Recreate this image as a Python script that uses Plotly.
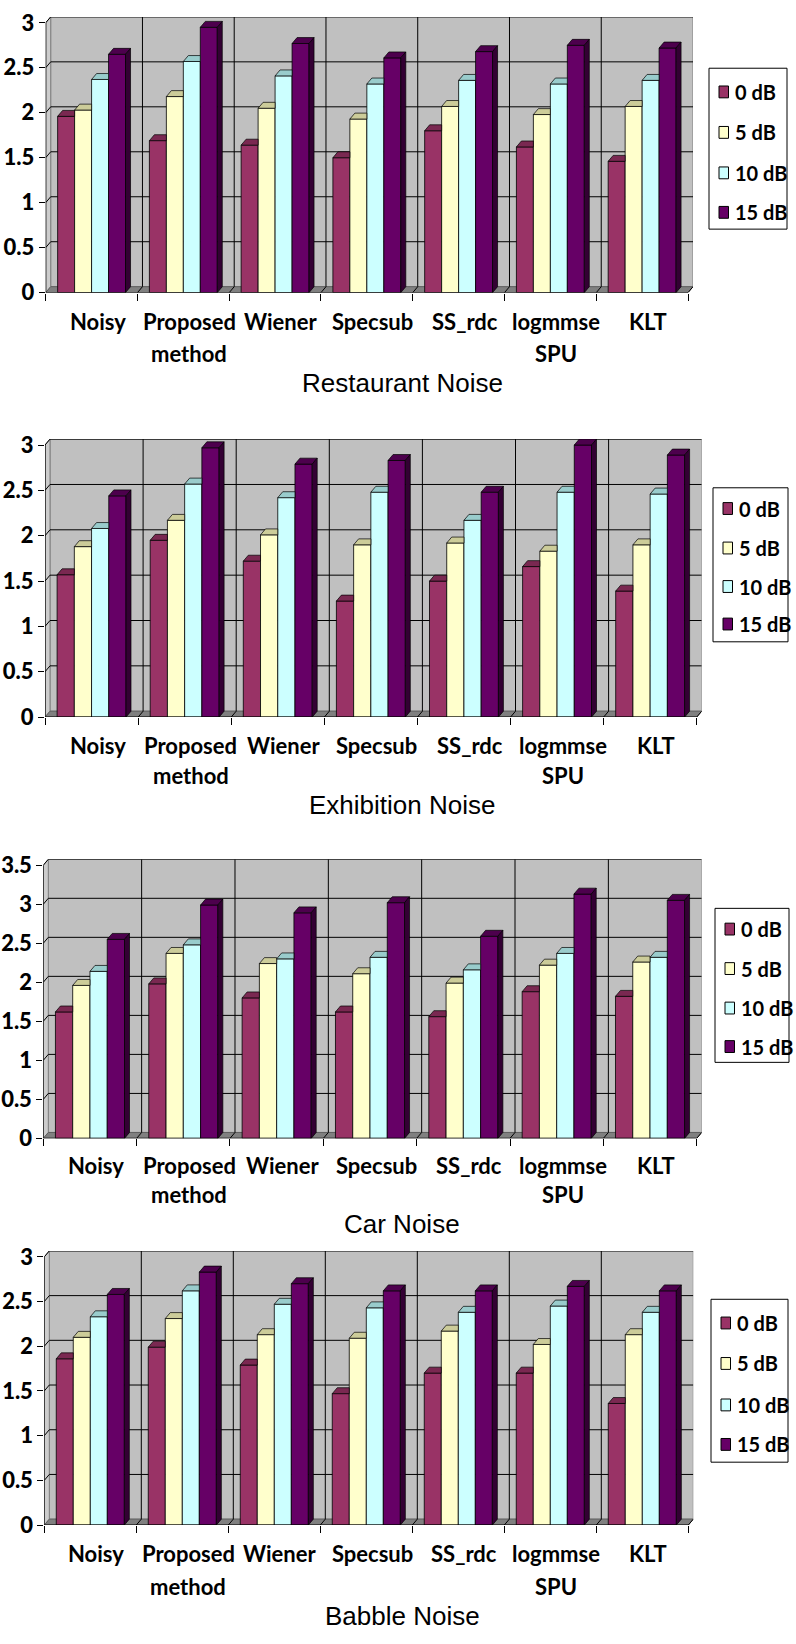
import plotly.graph_objects as go

W, H = 796, 1644

categories = ["Noisy", "Proposed method", "Wiener", "Specsub", "SS_rdc", "logmmse SPU", "KLT"]
series_names = ["0 dB", "5 dB", "10 dB", "15 dB"]

restaurant_0 = [1.96, 1.69, 1.64, 1.50, 1.80, 1.62, 1.46]
restaurant_5 = [2.03, 2.18, 2.05, 1.93, 2.07, 1.98, 2.07]
restaurant_10 = [2.37, 2.57, 2.41, 2.32, 2.36, 2.32, 2.36]
restaurant_15 = [2.65, 2.95, 2.77, 2.61, 2.68, 2.75, 2.72]

exhibition_0 = [1.57, 1.95, 1.72, 1.28, 1.50, 1.66, 1.39]
exhibition_5 = [1.88, 2.17, 2.01, 1.90, 1.92, 1.83, 1.90]
exhibition_10 = [2.08, 2.57, 2.42, 2.48, 2.17, 2.48, 2.46]
exhibition_15 = [2.44, 2.97, 2.79, 2.83, 2.48, 3.00, 2.89]

car_0 = [1.62, 1.98, 1.80, 1.62, 1.56, 1.88, 1.82]
car_5 = [1.96, 2.37, 2.24, 2.11, 1.99, 2.22, 2.26]
car_10 = [2.14, 2.48, 2.30, 2.32, 2.16, 2.37, 2.32]
car_15 = [2.55, 2.99, 2.89, 3.02, 2.59, 3.13, 3.05]

babble_0 = [1.86, 1.99, 1.79, 1.47, 1.70, 1.70, 1.36]
babble_5 = [2.10, 2.31, 2.13, 2.09, 2.17, 2.02, 2.13]
babble_10 = [2.33, 2.62, 2.47, 2.43, 2.38, 2.45, 2.38]
babble_15 = [2.58, 2.83, 2.70, 2.62, 2.62, 2.67, 2.62]

titles = ["Restaurant Noise", "Exhibition Noise", "Car Noise", "Babble Noise"]
y_max_values = [3, 3, 3.5, 3]
panel_series = [
    [restaurant_0, restaurant_5, restaurant_10, restaurant_15],
    [exhibition_0, exhibition_5, exhibition_10, exhibition_15],
    [car_0, car_5, car_10, car_15],
    [babble_0, babble_5, babble_10, babble_15],
]

# colours: front face, top face (shaded), side face (dark)
front_colors = ["#993366", "#FFFFCC", "#CCFFFF", "#660066"]
top_colors = ["#7A2851", "#CCCC99", "#99CCCC", "#4D004D"]
side_colors = ["#4D1A33", "#99997A", "#7A9999", "#330033"]

# pixel layout of each panel (front axis extents, legend box, text rows)
layout_px = [
    dict(xl=45.7, xr=688.0, y0=288.3, ytop=15.0, leg=(709, 787, 61, 224),
         rows=(85, 126, 167, 207), lab=(318, 350), title=380),
    dict(xl=45.0, xr=696.7, y0=718.3, ytop=442.7, leg=(713, 788, 486, 642),
         rows=(507, 547, 586, 624), lab=(747, 777), title=807),
    dict(xl=43.3, xr=696.7, y0=1145.0, ytop=868.3, leg=(715, 789, 912, 1068),
         rows=(933, 973, 1013, 1052), lab=(1172, 1202), title=1232),
    dict(xl=44.3, xr=688.3, y0=1536.7, ytop=1265.0, leg=(711, 788, 1308, 1473),
         rows=(1332, 1373, 1415, 1455), lab=(1566, 1599), title=1629),
]

DEPTH_X, DEPTH_Y = 5.0, 6.0   # 3-D depth offset in pixels
BAR_GAP = 0.26
GROUP_W = 1 - BAR_GAP
BAR_W = GROUP_W / 4
LABEL_FONT = "Lato, sans-serif"
TICK_FONT = "Lato Black, Lato Heavy, Lato, sans-serif"


def px_x(v):
    return v / W


def px_y(v):
    return 1 - v / H


def poly_xy(polys):
    xs, ys = [], []
    for p in polys:
        for (a, b) in p + [p[0]]:
            xs.append(a)
            ys.append(b)
        xs.append(None)
        ys.append(None)
    return xs, ys


fig = go.Figure()
shapes = []
annotations = []
layout_axes = {}

for n, (title, series, ymax, g) in enumerate(zip(titles, panel_series, y_max_values, layout_px), start=1):
    suffix = "" if n == 1 else str(n)
    xref, yref = "x" + suffix, "y" + suffix
    ncat = len(categories)
    cat_px = (g["xr"] - g["xl"]) / ncat
    ppu = (g["y0"] - g["ytop"]) / ymax
    dxu = DEPTH_X / cat_px
    dyu = DEPTH_Y / ppu
    xmin, xmax = -0.5, ncat - 0.5

    layout_axes["xaxis" + suffix] = dict(
        domain=[px_x(g["xl"]), px_x(g["xr"] + DEPTH_X)],
        range=[xmin, xmax + dxu], anchor=yref,
        tickmode="array", tickvals=[i - 0.5 for i in range(ncat + 1)],
        ticktext=[""] * (ncat + 1), ticks="outside", ticklen=7, tickcolor="black",
        tickwidth=1, showgrid=False, zeroline=False, showline=False, fixedrange=True,
    )
    ticks = [i * 0.5 for i in range(int(ymax / 0.5) + 1)]
    layout_axes["yaxis" + suffix] = dict(
        domain=[px_y(g["y0"]), px_y(g["ytop"] - DEPTH_Y)],
        range=[0, ymax + dyu], anchor=xref,
        tickmode="array", tickvals=ticks, ticktext=[f"<b>{t:g}</b>" for t in ticks],
        ticks="outside", ticklen=6, tickcolor="black", tickwidth=1,
        tickfont=dict(family=TICK_FONT, size=22, color="black"),
        showgrid=False, zeroline=False, showline=False, fixedrange=True,
    )

    def dshape(**kw):
        d = dict(xref=xref, yref=yref, layer="below")
        d.update(kw)
        shapes.append(d)

    # back wall, side wall and floor
    dshape(type="rect", x0=xmin + dxu, x1=xmax + dxu, y0=dyu, y1=ymax + dyu,
           fillcolor="#C0C0C0", line=dict(color="#808080", width=1))
    dshape(type="path",
           path=f"M {xmin},0 L {xmin},{ymax} L {xmin + dxu},{ymax + dyu} L {xmin + dxu},{dyu} Z",
           fillcolor="#CCCCCC", line=dict(color="#808080", width=1))
    dshape(type="path",
           path=f"M {xmin},0 L {xmax},0 L {xmax + dxu},{dyu} L {xmin + dxu},{dyu} Z",
           fillcolor="#808080", line=dict(color="#606060", width=1))
    # gridlines on the back wall and side wall
    for t in ticks[1:]:
        dshape(type="line", x0=xmin + dxu, x1=xmax + dxu, y0=t + dyu, y1=t + dyu,
               line=dict(color="black", width=1))
        dshape(type="line", x0=xmin, x1=xmin + dxu, y0=t, y1=t + dyu,
               line=dict(color="black", width=1))
    for k in range(1, ncat):
        xb = k - 0.5
        dshape(type="line", x0=xb + dxu, x1=xb + dxu, y0=dyu, y1=ymax + dyu,
               line=dict(color="black", width=1))
        dshape(type="line", x0=xb, x1=xb + dxu, y0=0, y1=dyu,
               line=dict(color="black", width=1))
    # front axis lines
    dshape(type="line", x0=xmin, x1=xmin, y0=0, y1=ymax, line=dict(color="black", width=1.2),
           layer="above")
    dshape(type="line", x0=xmin, x1=xmax, y0=0, y1=0, line=dict(color="black", width=1.2),
           layer="above")
    dshape(type="line", x0=xmax, x1=xmax + dxu, y0=0, y1=dyu, line=dict(color="black", width=1),
           layer="above")

    # bars (front faces)
    xs = list(range(ncat))
    for k, (name, vals) in enumerate(zip(series_names, series)):
        fig.add_trace(go.Bar(
            x=xs, y=vals, name=name, xaxis=xref, yaxis=yref, showlegend=False,
            marker=dict(color=front_colors[k], line=dict(color="black", width=0.8)),
            hoverinfo="skip",
        ))

    # top and side faces of each bar
    for k in range(4):
        tops, sides = [], []
        for c in range(ncat):
            v = series[k][c]
            x0 = c - GROUP_W / 2 + k * BAR_W
            x1 = x0 + BAR_W
            nxt = series[k + 1][c] if k < 3 else None
            if nxt is not None and nxt > v:
                tops.append([(x0, v), (x0 + dxu, v + dyu), (x1, v + dyu), (x1, v)])
            else:
                tops.append([(x0, v), (x0 + dxu, v + dyu), (x1 + dxu, v + dyu), (x1, v)])
            if nxt is None:
                base = 0
            elif nxt < v:
                base = nxt
            else:
                continue
            sides.append([(x1, base), (x1, v), (x1 + dxu, v + dyu), (x1 + dxu, base + dyu)])
        for polys, col in ((tops, top_colors[k]), (sides, side_colors[k])):
            if not polys:
                continue
            px_, py_ = poly_xy(polys)
            fig.add_trace(go.Scatter(
                x=px_, y=py_, mode="lines", fill="toself", fillcolor=col,
                line=dict(color="black", width=0.7), xaxis=xref, yaxis=yref,
                showlegend=False, hoverinfo="skip",
            ))

    # category labels (wrapped onto two lines)
    for c, cat in enumerate(categories):
        parts = cat.split(" ", 1)
        for line_i, part in enumerate(parts):
            annotations.append(dict(
                x=c, xref=xref, xshift=6, y=px_y(g["lab"][line_i]), yref="paper",
                text=f"<b>{part}</b>", showarrow=False, xanchor="center", yanchor="middle",
                font=dict(family=LABEL_FONT, size=22, color="black"),
            ))

    # panel title
    annotations.append(dict(
        x=px_x(402), y=px_y(g["title"]), xref="paper", yref="paper", text=title,
        showarrow=False, xanchor="center", yanchor="middle",
        font=dict(family="Liberation Sans, Arial, sans-serif", size=26, color="black"),
    ))

    # legend box
    lx0, lx1, ly0, ly1 = g["leg"]
    shapes.append(dict(type="rect", xref="paper", yref="paper",
                       x0=px_x(lx0), x1=px_x(lx1), y0=px_y(ly1), y1=px_y(ly0),
                       fillcolor="white", line=dict(color="black", width=1), layer="above"))
    for k, name in enumerate(series_names):
        ry = g["rows"][k]
        shapes.append(dict(type="rect", xref="paper", yref="paper",
                           x0=px_x(lx0 + 10), x1=px_x(lx0 + 19.5),
                           y0=px_y(ry + 6), y1=px_y(ry - 6),
                           fillcolor=front_colors[k], line=dict(color="black", width=1),
                           layer="above"))
        annotations.append(dict(
            x=px_x(lx0 + 24), y=px_y(ry), xref="paper", yref="paper",
            text=f"<b>{name}</b>", showarrow=False, xanchor="left", yanchor="middle",
            font=dict(family=LABEL_FONT, size=20, color="black"),
        ))

fig.update_layout(
    width=W, height=H, autosize=False,
    margin=dict(l=0, r=0, t=0, b=0),
    paper_bgcolor="white", plot_bgcolor="rgba(0,0,0,0)",
    barmode="group", bargap=BAR_GAP, bargroupgap=0,
    showlegend=False, shapes=shapes, annotations=annotations,
    **layout_axes,
)

fig.write_html("out.html")
